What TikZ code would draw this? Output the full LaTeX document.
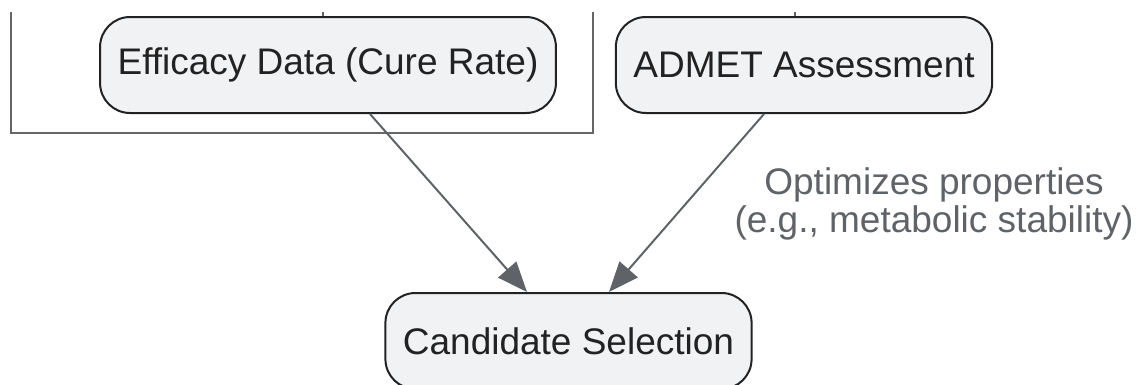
\documentclass[tikz,border=0pt]{standalone}
\usepackage{fontspec}
\setmainfont{Liberation Sans}
\usetikzlibrary{arrows.meta,calc}
\definecolor{nodefill}{HTML}{F1F2F4}
\definecolor{nodeline}{HTML}{222222}
\definecolor{edgegray}{HTML}{5F6368}
\definecolor{clustergray}{HTML}{666666}
\tikzset{
  procbox/.style={draw=nodeline, fill=nodefill, line width=2pt, rounded corners=30pt,
    minimum height=96pt, inner xsep=17.5pt, inner ysep=0pt, text=nodeline,
    font=\fontsize{37}{42}\selectfont},
  flow/.style={draw=edgegray, line width=2pt, -{Triangle[length=30pt,width=24pt]}},
  edgelabel/.style={text=edgegray, align=center, font=\fontsize{37}{38}\selectfont},
  clusterline/.style={draw=clustergray, line width=2pt},
  stub/.style={draw=edgegray, line width=1.5pt}
}
\begin{document}
\begin{tikzpicture}[x=1pt,y=-1pt]
\useasboundingbox (0,0) rectangle (1139,384);
\clip (0,0) rectangle (1139,384);
% cluster outline (top cut off)
\coordinate (cTL) at (10.5,12);
\coordinate (cBR) at (593,133);
\coordinate (cTR) at (593,12);
\draw[clusterline] (cTL) |- (cBR) -- (cTR);
% nodes
\node[procbox] (eff) at (328,65) {Efficacy Data (Cure Rate)};
\node[procbox] (admet) at (804,65) {ADMET Assessment};
\node[procbox] (cand) at (568.5,341) {Candidate Selection};
% stubs of incoming connectors from above
\coordinate (tA) at (323,12);
\coordinate (tB) at (795,12);
\draw[stub] (tA) -- (tA |- eff.north);
\draw[stub] (tB) -- (tB |- admet.north);
% connectors
\draw[flow] ($(eff.south)+(42,0)$) -- ($(cand.north)+(-41.5,0)$);
\draw[flow] ($(admet.south)+(-40,0)$) -- ($(cand.north)+(40.5,0)$);
\node[edgelabel] (lbl) at (934,204) {Optimizes properties\\(e.g., metabolic stability)};
\end{tikzpicture}
\end{document}
